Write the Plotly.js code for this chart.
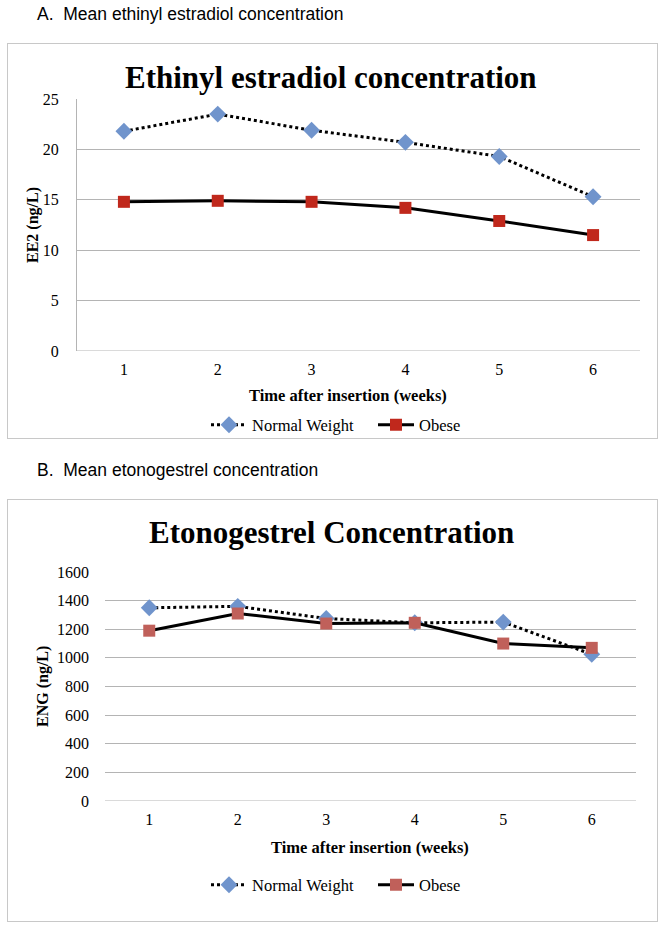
<!DOCTYPE html>
<html>
<head>
<meta charset="utf-8">
<script src="https://cdn.plot.ly/plotly-3.0.1.min.js"></script>
<style>
  html, body { margin:0; padding:0; background:#fff; }
  body { width:664px; height:929px; position:relative; overflow:hidden; }
  .box { position:absolute; border:1.5px solid #c8c8c8; box-sizing:border-box; }
  .plot { position:absolute; left:0; width:664px; }
</style>
</head>
<body>
<div class="box" style="left:7px; top:43px; width:651px; height:396px;"></div>
<div class="box" style="left:7px; top:499px; width:651px; height:423px;"></div>
<div id="chartA" class="plot" style="top:0px; height:460px;"></div>
<div id="chartB" class="plot" style="top:460px; height:469px;"></div>
<script>
// ---- data ----
const weeks = [1, 2, 3, 4, 5, 6];
const seriesNames = ["Normal Weight", "Obese"];
const ee2Normal = [21.8, 23.5, 21.9, 20.7, 19.3, 15.3];
const ee2Obese  = [14.8, 14.9, 14.8, 14.2, 12.9, 11.5];
const engNormal = [1350, 1360, 1275, 1245, 1250, 1025];
const engObese  = [1190, 1310, 1240, 1245, 1100, 1070];
const ee2Ticks = [0, 5, 10, 15, 20, 25];
const engTicks = [0, 200, 400, 600, 800, 1000, 1200, 1400, 1600];

const serif = "Liberation Serif, Times New Roman, serif";
const sans = "Liberation Sans, Arial, sans-serif";

function makeChart(id, cfg) {
  const W = 664, H = cfg.H;
  const m = cfg.margin;
  const pw = W - m.l - m.r, ph = H - m.t - m.b;
  const px = x => (x - m.l) / pw;
  const py = y => (H - m.b - y) / ph;

  const traces = [
    {
      x: weeks, y: cfg.normal, name: seriesNames[0], type: "scatter", mode: "lines+markers",
      line: { color: "#000", width: 3, dash: "dot" },
      marker: { symbol: "diamond", size: 13, color: "#7094cc" }
    },
    {
      x: weeks, y: cfg.obese, name: seriesNames[1], type: "scatter", mode: "lines+markers",
      line: { color: "#000", width: 3 },
      marker: { symbol: "square", size: 12, color: cfg.obeseColor }
    }
  ];

  const layout = {
    width: W, height: H,
    margin: m,
    paper_bgcolor: "rgba(0,0,0,0)",
    plot_bgcolor: "rgba(0,0,0,0)",
    showlegend: true,
    legend: {
      orientation: "h", x: px(cfg.legendX), xanchor: "left",
      y: py(cfg.legendY), yanchor: "middle",
      font: { family: serif, size: 16.5, color: "#000" },
      itemwidth: 36, entrywidth: 116, entrywidthmode: "pixels",
      tracegroupgap: 0, bgcolor: "rgba(0,0,0,0)"
    },
    xaxis: {
      type: "linear", range: [0.5, 6.5], tickvals: weeks, ticktext: weeks.map(String),
      showgrid: false, zeroline: false, showline: false, ticks: "",
      tickfont: { family: serif, size: 16, color: "#000" }, ticklabelstandoff: 7
    },
    yaxis: {
      range: cfg.yRange, tickvals: cfg.yTicks, ticktext: cfg.yTicks.map(String),
      showgrid: true, gridcolor: "#b4b4b4", gridwidth: 1, zeroline: false,
      showline: cfg.yLine, linecolor: "#b4b4b4", linewidth: 1, ticks: "",
      tickfont: { family: serif, size: 16, color: "#000" }, ticklabelstandoff: cfg.yStandoff
    },
    shapes: [{
      type: "line", xref: "paper", yref: "y", x0: 0, x1: 1, y0: 0, y1: 0,
      line: { color: "#b4b4b4", width: 1 }
    }],
    annotations: [
      { text: cfg.header, xref: "paper", yref: "paper", x: px(cfg.headerX), y: py(cfg.headerY),
        xanchor: "left", yanchor: "middle", showarrow: false,
        font: { family: sans, size: 17.5, color: "#000" } },
      { text: "<b>" + cfg.title + "</b>", xref: "paper", yref: "paper", x: px(331), y: py(cfg.titleY),
        xanchor: "center", yanchor: "middle", showarrow: false,
        font: { family: serif, size: cfg.titleSize, color: "#000" } },
      { text: "<b>Time after insertion (weeks)</b>", xref: "paper", yref: "paper",
        x: px(cfg.xTitleX), y: py(cfg.xTitleY), xanchor: "center", yanchor: "middle", showarrow: false,
        font: { family: serif, size: 16.5, color: "#000" } },
      { text: "<b>" + cfg.yTitle + "</b>", xref: "paper", yref: "paper", textangle: -90,
        x: px(cfg.yTitleX), y: py(cfg.yTitleY), xanchor: "center", yanchor: "middle", showarrow: false,
        font: { family: serif, size: 16, color: "#000" } }
    ]
  };
  Plotly.newPlot(id, traces, layout, { displayModeBar: false, staticPlot: true });
}

makeChart("chartA", {
  H: 460, margin: { l: 77, r: 24, t: 99, b: 109, pad: 0 },
  normal: ee2Normal, obese: ee2Obese, obeseColor: "#c0281c",
  yRange: [0, 25], yTicks: ee2Ticks, yLine: true, yStandoff: 14,
  header: "A.  Mean ethinyl estradiol concentration", headerX: 35, headerY: 14,
  title: "Ethinyl estradiol concentration", titleY: 77, titleSize: 31,
  xTitleX: 348, xTitleY: 395,
  yTitle: "EE2 (ng/L)", yTitleX: 33, yTitleY: 225,
  legendX: 206, legendY: 425
});

makeChart("chartB", {
  H: 469, margin: { l: 105, r: 28, t: 112, b: 128, pad: 0 },
  normal: engNormal, obese: engObese, obeseColor: "#c0605a",
  yRange: [0, 1600], yTicks: engTicks, yLine: false, yStandoff: 15,
  header: "B.  Mean etonogestrel concentration", headerX: 35, headerY: 10,
  title: "Etonogestrel Concentration", titleY: 73, titleSize: 31,
  xTitleX: 370, xTitleY: 387,
  yTitle: "ENG (ng/L)", yTitleX: 43, yTitleY: 227,
  legendX: 206, legendY: 425
});
</script>
</body>
</html>
